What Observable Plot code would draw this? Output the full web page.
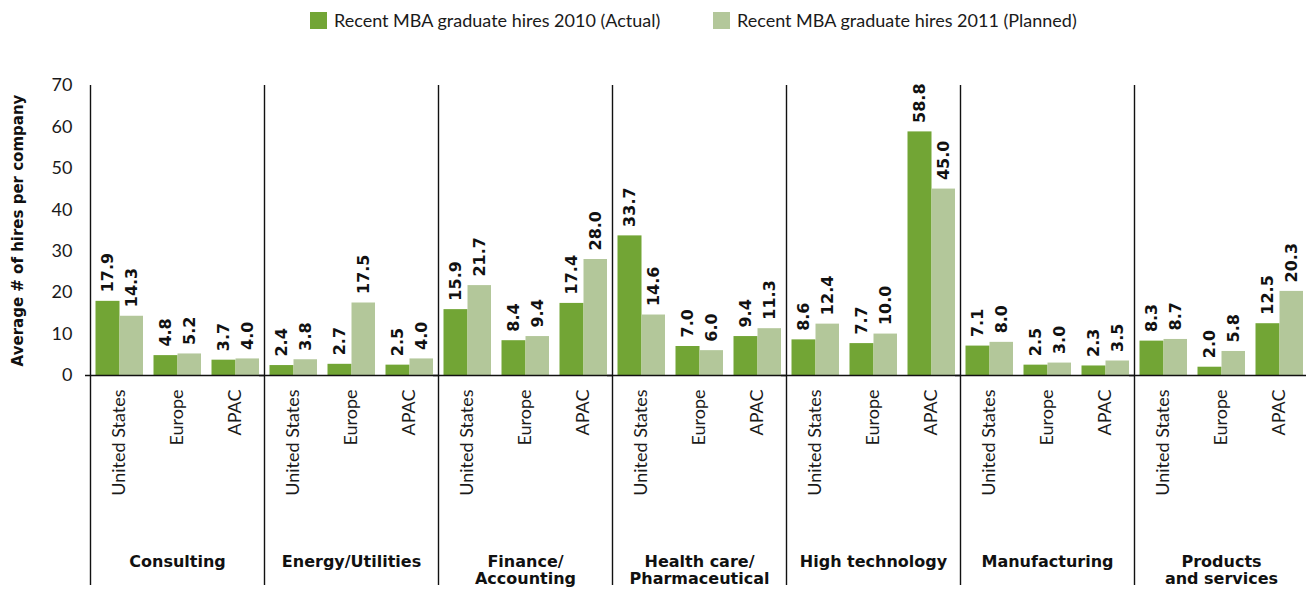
<!DOCTYPE html>
<html>
<head>
<meta charset="utf-8">
<script src="https://cdn.jsdelivr.net/npm/d3@7"></script>
<script src="https://cdn.jsdelivr.net/npm/@observablehq/plot@0.6"></script>
<style>
  html, body { margin: 0; padding: 0; background: #fff; }
  body { width: 1306px; height: 589px; overflow: hidden; font-family: Lato, "Open Sans", sans-serif; color: #1a1a1a; }
  #legend { position: relative; height: 40px; }
  .item { position: absolute; top: 9px; display: flex; align-items: center; font-size: 18px; }
  .sw { width: 17px; height: 17px; margin-right: 7px; }
  #chart svg { display: block; overflow: hidden; }
</style>
</head>
<body>
<div id="legend"></div>
<div id="chart"></div>
<script>
const industries = ["Consulting", "Energy/Utilities", "Finance/\nAccounting", "Health care/\nPharmaceutical", "High technology", "Manufacturing", "Products\nand services"];
const regions = ["United States", "Europe", "APAC"];
const seriesNames = ["Recent MBA graduate hires 2010 (Actual)", "Recent MBA graduate hires 2011 (Planned)"];
const seriesColors = ["#72a535", "#b3c79a"];
const hires2010 = [17.9, 4.8, 3.7, 2.4, 2.7, 2.5, 15.9, 8.4, 17.4, 33.7, 7.0, 9.4, 8.6, 7.7, 58.8, 7.1, 2.5, 2.3, 8.3, 2.0, 12.5];
const hires2011 = [14.3, 5.2, 4.0, 3.8, 17.5, 4.0, 21.7, 9.4, 28.0, 14.6, 6.0, 11.3, 12.4, 10.0, 45.0, 8.0, 3.0, 3.5, 8.7, 5.8, 20.3];
const yTicks = [0, 10, 20, 30, 40, 50, 60, 70];
const yTitle = "Average # of hires per company";

// legend
const legend = document.getElementById("legend");
const legendLeft = [310, 713];
seriesNames.forEach((name, i) => {
  const it = document.createElement("div");
  it.className = "item";
  it.style.left = legendLeft[i] + "px";
  it.innerHTML = `<span class="sw" style="background:${seriesColors[i]}"></span><span>${name}</span>`;
  legend.appendChild(it);
});

function rows(values) {
  return values.map((v, k) => ({industry: industries[Math.floor(k / 3)], region: regions[k % 3], value: v}));
}
const rows2010 = rows(hires2010);
const rows2011 = rows(hires2011);

const W = 1306, ML = 90, MR = -2;
const facetW = (W - ML - MR) / industries.length;
const slotW = facetW / regions.length;

const boldFont = "'DejaVu Sans', Verdana, sans-serif";
const bold = {fontWeight: "bold", fill: "#111", fontFamily: boldFont};

const chart = Plot.plot({
  width: W,
  height: 549,
  marginTop: 45,
  marginBottom: 214,
  marginLeft: ML,
  marginRight: MR,
  style: {fontFamily: "Lato, 'Open Sans', sans-serif", fontSize: "18px", color: "#1a1a1a", background: "#fff"},
  fx: {domain: industries, padding: 0, round: false, axis: null},
  x: {domain: regions, padding: 0, round: false, axis: null},
  y: {domain: [0, 70], ticks: yTicks, tickSize: 0, tickPadding: 18, label: null},
  marks: [
    Plot.barY(rows2010, {fx: "industry", x: "region", y: "value", fill: seriesColors[0], insetLeft: 5.5, insetRight: slotW - 29.5}),
    Plot.barY(rows2011, {fx: "industry", x: "region", y: "value", fill: seriesColors[1], insetLeft: 29.5, insetRight: slotW - 53}),
    Plot.text(rows2010, {fx: "industry", x: "region", y: "value", text: d => d.value.toFixed(1), rotate: -90, textAnchor: "start", dx: 17.5 - slotW / 2, dy: -9, fontSize: 16, ...bold}),
    Plot.text(rows2011, {fx: "industry", x: "region", y: "value", text: d => d.value.toFixed(1), rotate: -90, textAnchor: "start", dx: 41.25 - slotW / 2, dy: -9, fontSize: 16, ...bold}),
    Plot.ruleY([0], {stroke: "#111", strokeWidth: 1.4, insetLeft: -5}),
    Plot.ruleX(industries, {fx: d => d, x: () => regions[0], dx: -slotW / 2, stroke: "#111", strokeWidth: 1.4, insetBottom: -210}),
    Plot.axisX({tickRotate: -90, tickSize: 0, tickPadding: 14, fontSize: 18, label: null}),
    Plot.text(industries, {fx: d => d, text: d => d, frameAnchor: "bottom", lineAnchor: "top", dy: 179, fontSize: 16, lineHeight: 1.08, ...bold}),
    Plot.text([yTitle], {fx: () => industries[0], text: d => d, frameAnchor: "left", textAnchor: "middle", rotate: -90, dx: -72, fontSize: 15, ...bold})
  ]
});
document.getElementById("chart").appendChild(chart);
</script>
</body>
</html>
